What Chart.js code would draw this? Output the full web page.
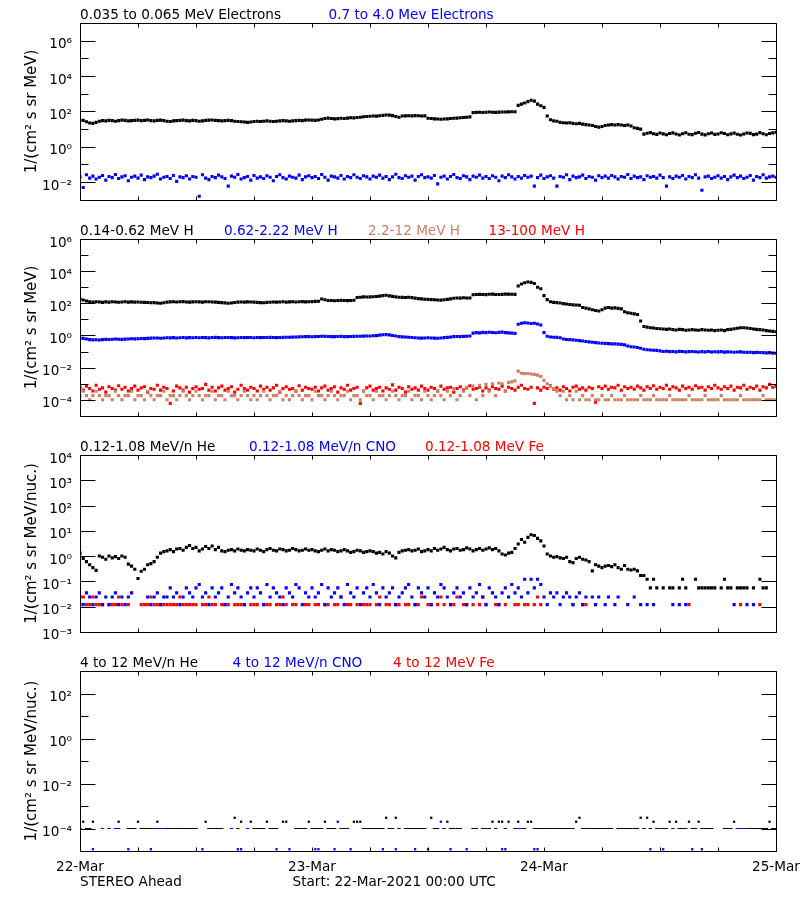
<!DOCTYPE html>
<html>
<head>
<meta charset="utf-8">
<script src="https://cdn.jsdelivr.net/npm/chart.js@4.4.1/dist/chart.umd.min.js"></script>
<style>
html,body{margin:0;padding:0;background:#fff;}
#wrap{position:relative;width:800px;height:900px;overflow:hidden;background:#fff;}
canvas{position:absolute;left:0;}
</style>
</head>
<body>
<div id="wrap">
<canvas id="c1" width="800" height="216" style="top:0px"></canvas>
<canvas id="c2" width="800" height="216" style="top:216px"></canvas>
<canvas id="c3" width="800" height="216" style="top:432px"></canvas>
<canvas id="c4" width="800" height="252" style="top:648px"></canvas>
</div>
<script>
// ---------- time axis (hours since 22-Mar-2021 00:00 UTC), samples every 20 minutes ----------
const HOURS_PER_STEP = 1/3;
const xTickHours = [0,6,12,18,24,30,36,42,48,54,60,66,72];
const dayTickHours = [0,24,48,72];
const dayLabels = ['22-Mar','23-Mar','24-Mar','25-Mar'];

// ---------- y tick values / labels ----------
const p1TickVals = [1e-2,1,1e2,1e4,1e6];
const p1TickLabels = ['10⁻²','10⁰','10²','10⁴','10⁶'];
const p1Minor = [1e-1,1e1,1e3,1e5];
const p2TickVals = [1e-4,1e-2,1,1e2,1e4,1e6];
const p2TickLabels = ['10⁻⁴','10⁻²','10⁰','10²','10⁴','10⁶'];
const p2Minor = [1e-3,1e-1,1e1,1e3,1e5];
const p3TickVals = [1e-3,1e-2,1e-1,1,1e1,1e2,1e3,1e4];
const p3TickLabels = ['10⁻³','10⁻²','10⁻¹','10⁰','10¹','10²','10³','10⁴'];
const p3Minor = [];
const p4TickVals = [1e-4,1e-2,1,1e2];
const p4TickLabels = ['10⁻⁴','10⁻²','10⁰','10²'];
const p4Minor = [1e-3,1e-1,1e1];

// ---------- Panel 1: electrons ----------
const e35to65 = [
 33,31,26,22,21,24,28,30,29,31,30,28,30,32,31,29,30,31,
 32,30,31,33,30,29,31,32,30,28,27,29,30,31,32,30,29,31,
 30,28,29,31,32,33,31,30,29,30,31,30,28,27,26,25,24,25,
 27,28,27,28,29,28,27,28,29,30,29,28,29,30,31,30,32,33,
 32,31,33,36,40,42,40,38,39,41,40,42,44,43,45,47,50,52,
 53,55,54,57,60,63,62,58,52,47,55,56,57,56,58,57,55,56,
 41,40,38,37,36,37,38,40,41,42,44,45,47,49,86,88,90,87,
 89,92,90,88,91,93,92,94,95,96,220,260,300,360,430,380,260,210,
 170,55,34,29,28,24,23,22,23,21,20,21,19,18,17,16,14,13,
 14,16,17,18,17,18,17,16,17,15,12,11,10,5.2,5.8,6.3,5.5,5.0,
 6.0,5.4,4.8,5.6,6.1,5.3,4.6,5.5,6.2,5.1,4.9,5.8,6.4,5.2,4.7,5.5,6.0,5.0,
 5.3,6.2,5.6,4.8,5.4,5.9,5.1,4.6,5.3,6.0,5.7,4.9,5.2,6.3,5.5,4.8,5.6,6.1,
 6.6];
const e07to40 = [
 .020,.005,.026,.017,.022,.015,.019,.024,.013,.021,.018,.027,.016,.020,.023,.012,.019,.022,
 .017,.025,.014,.020,.018,.022,.028,.015,.019,.021,.016,.024,.011,.020,.018,.023,.015,.021,
 .019,.0016,.026,.017,.014,.021,.018,.025,.020,.016,.006,.022,.019,.027,.015,.018,.021,.013,
 .024,.017,.020,.016,.023,.019,.012,.021,.026,.018,.015,.022,.019,.017,.025,.014,.020,.023,
 .018,.021,.016,.027,.019,.013,.022,.020,.017,.024,.015,.021,.018,.026,.019,.016,.023,.020,
 .015,.022,.019,.025,.017,.021,.014,.020,.028,.018,.016,.023,.019,.022,.013,.021,.026,.018,
 .020,.017,.024,.008,.019,.022,.015,.021,.027,.018,.016,.023,.020,.014,.022,.019,.025,.017,
 .021,.016,.023,.019,.012,.022,.018,.026,.020,.015,.021,.017,.024,.019,.022,.006,.018,.025,
 .016,.020,.023,.017,.006,.021,.019,.026,.014,.022,.018,.020,.025,.016,.021,.019,.013,.023,
 .018,.022,.017,.024,.020,.015,.021,.019,.027,.016,.022,.018,.020,.014,.023,.019,.021,.017,
 .025,.018,.006,.020,.016,.022,.019,.024,.015,.021,.018,.026,.017,.0035,.020,.022,.016,.019,
 .023,.017,.021,.014,.020,.025,.018,.022,.016,.019,.024,.013,.021,.018,.026,.017,.020,.022,
 .019];

// ---------- Panel 2: protons ----------
const h014to062 = [
 185,160,140,125,118,125,120,115,122,118,125,120,116,121,124,118,122,119,
 121,117,115,112,108,110,105,100,108,118,122,125,120,124,127,121,118,123,
 125,122,119,124,126,120,118,115,110,106,100,104,112,118,121,119,123,120,
 118,114,110,108,114,117,120,118,121,124,119,122,125,121,124,127,123,126,
 128,131,135,185,165,150,148,145,150,152,148,146,150,155,230,240,250,245,
 250,258,265,280,300,316,290,270,250,238,235,230,240,225,210,195,190,180,
 175,170,165,160,158,165,175,190,205,215,210,220,215,212,340,355,360,350,
 345,365,370,355,350,360,370,375,365,360,1200,1600,1900,2100,2000,1700,1000,800,
 300,170,125,115,110,105,95,90,85,80,78,75,55,50,45,40,36,33,
 40,50,55,50,52,48,45,30,26,24,22,20,8,3.6,3.3,3.0,2.9,2.7,
 2.6,2.5,2.4,2.5,2.3,2.2,2.4,2.3,2.1,2.2,2.3,2.2,2.1,2.3,2.2,2.1,2.2,2.0,
 2.1,2.2,2.0,2.3,2.4,2.6,2.8,3.0,3.0,2.9,2.7,2.5,2.4,2.3,2.2,2.0,1.9,1.8,
 1.7];
const h062to222 = [
 .68,.66,.60,.55,.53,.54,.52,.55,.57,.56,.58,.60,.58,.57,.59,.60,.62,.61,
 .63,.65,.64,.66,.68,.70,.69,.67,.70,.72,.71,.73,.70,.72,.74,.71,.73,.72,
 .74,.72,.75,.73,.71,.74,.76,.73,.72,.74,.75,.73,.71,.72,.74,.73,.75,.74,
 .72,.74,.73,.75,.74,.76,.75,.73,.74,.76,.78,.77,.79,.80,.82,.83,.85,.84,
 .83,.85,.86,.90,.88,.86,.85,.84,.86,.87,.85,.84,.86,.88,.90,.89,.91,.93,
 .92,.95,.98,1.05,1.10,1.12,1.08,1.00,.92,.85,.82,.80,.78,.75,.72,.70,.68,.70,
 .72,.70,.68,.67,.70,.73,.76,.80,.84,.86,.85,.88,.90,.92,1.4,1.5,1.45,1.55,
 1.5,1.58,1.52,1.48,1.55,1.6,1.5,1.45,1.4,1.35,5.0,5.8,6.2,5.9,5.5,5.8,5.2,4.5,
 1.5,.90,.80,.78,.76,.72,.60,.56,.55,.53,.50,.48,.45,.42,.40,.38,.36,.34,
 .33,.32,.31,.30,.30,.29,.28,.26,.22,.20,.19,.18,.16,.14,.13,.125,.12,.118,
 .11,.10,.105,.098,.10,.096,.102,.10,.095,.098,.101,.097,.094,.099,.096,.10,.093,.097,
 .095,.098,.092,.096,.094,.090,.093,.095,.091,.088,.090,.086,.089,.087,.085,.083,.086,.080,
 .078];
const h22to12 = [
 1.8e-4,3.4e-4,1.8e-4,1e-4,1.8e-4,3.4e-4,1.8e-4,1e-4,1.8e-4,1.8e-4,1e-4,3.4e-4,1.8e-4,1e-4,1.8e-4,1.8e-4,3.4e-4,1e-4,
 1.8e-4,1.8e-4,1e-4,3.4e-4,1.8e-4,1e-4,1.8e-4,1.8e-4,3.4e-4,1e-4,1.8e-4,1.8e-4,1e-4,1.8e-4,3.4e-4,1.8e-4,1e-4,1.8e-4,
 3.4e-4,1.8e-4,1e-4,1.8e-4,1.8e-4,3.4e-4,1e-4,1.8e-4,1.8e-4,1e-4,3.4e-4,1.8e-4,1.8e-4,1e-4,1.8e-4,3.4e-4,1.8e-4,1e-4,
 1.8e-4,1e-4,1.8e-4,3.4e-4,1.8e-4,1e-4,1.8e-4,1.8e-4,3.4e-4,1e-4,1.8e-4,1e-4,1.8e-4,3.4e-4,1.8e-4,1e-4,1.8e-4,1.8e-4,
 1e-4,3.4e-4,1.8e-4,1.8e-4,1e-4,1.8e-4,3.4e-4,1.8e-4,1e-4,1.8e-4,1.8e-4,3.4e-4,1e-4,1.8e-4,1.8e-4,1e-4,3.4e-4,1.8e-4,
 1.8e-4,1e-4,3.4e-4,1.8e-4,1.8e-4,1e-4,1.8e-4,3.4e-4,1.8e-4,1e-4,1.8e-4,1.8e-4,3.4e-4,1e-4,1.8e-4,1.8e-4,1e-4,3.4e-4,
 1.8e-4,1e-4,1.8e-4,3.4e-4,1.8e-4,1e-4,3.4e-4,1.8e-4,5e-4,1e-4,1.8e-4,3.4e-4,6e-4,1.8e-4,7e-4,1e-4,8e-4,1.8e-4,
 9e-4,3.4e-4,1e-3,1.8e-4,1.1e-3,1e-3,3.4e-4,1.2e-3,1.3e-3,1.5e-3,6e-3,4.5e-3,4.2e-3,4.3e-3,4e-3,3.8e-3,3.4e-3,2.8e-3,
 1.6e-3,1e-3,7e-4,5e-4,3.4e-4,1.8e-4,3.4e-4,1e-4,1.8e-4,1e-4,3.4e-4,1e-4,1.8e-4,1e-4,1e-4,1.8e-4,1e-4,1e-4,
 1.8e-4,1e-4,1e-4,1.8e-4,1e-4,1e-4,1e-4,1.8e-4,1e-4,1e-4,1e-4,1e-4,1.8e-4,1e-4,1e-4,1e-4,1.8e-4,1e-4,
 1e-4,1e-4,1e-4,1.8e-4,1e-4,1e-4,1e-4,1e-4,1e-4,1.8e-4,1e-4,1e-4,1e-4,1e-4,1.8e-4,1e-4,1e-4,1e-4,
 1e-4,1.8e-4,1e-4,1e-4,1e-4,1e-4,1e-4,1.8e-4,1e-4,1e-4,1e-4,1e-4,1e-4,1e-4,1.8e-4,1e-4,1e-4,1e-4,
 1e-4];
const h13to100 = [
 6e-4,4e-4,7e-4,5e-4,3.5e-4,8e-4,4.5e-4,5.5e-4,3e-4,6.5e-4,5e-4,4e-4,7.5e-4,4.5e-4,6e-4,3.5e-4,5e-4,7e-4,
 4e-4,5.5e-4,6.5e-4,3e-4,5e-4,4.5e-4,8e-4,4e-4,6e-4,5e-4,6e-5,3.5e-4,7e-4,5.5e-4,4e-4,6e-4,3e-4,5e-4,
 6.5e-4,4.5e-4,5e-4,9e-4,4e-4,6e-4,3.5e-4,5.5e-4,7e-4,4e-4,5e-4,6.5e-4,3e-4,4.5e-4,8e-4,5e-4,4e-4,6e-4,
 5e-4,3.5e-4,7e-4,4.5e-4,6e-4,4e-4,5.5e-4,8e-4,3e-4,5e-4,6.5e-4,4.5e-4,5e-4,3.5e-4,7.5e-4,4e-4,6e-4,5e-4,
 4.5e-4,6e-4,3.5e-4,5.5e-4,7e-4,4e-4,5e-4,6.5e-4,3e-4,5.5e-4,4.5e-4,8e-4,4e-4,5e-4,6e-4,6e-5,3.5e-4,5.5e-4,
 7e-4,4e-4,5e-4,6e-4,3.5e-4,5.5e-4,4.5e-4,8.5e-4,4e-4,6e-4,5e-4,3e-4,6.5e-4,4.5e-4,5.5e-4,4e-4,7e-4,5e-4,
 4e-4,6e-4,5e-4,3.5e-4,7e-4,4.5e-4,5.5e-4,6e-4,3e-4,5e-4,6.5e-4,4e-4,5.5e-4,7.5e-4,4.5e-4,5e-4,6e-4,3.5e-4,
 5.5e-4,4e-4,6.5e-4,5e-4,4.5e-4,7e-4,3.5e-4,6e-4,5e-4,4e-4,6e-4,8e-4,5e-4,4.5e-4,6e-4,6e-5,5.5e-4,4e-4,
 6e-4,5e-4,7.5e-4,4.5e-4,5.5e-4,4e-4,6.5e-4,5e-4,3.5e-4,6e-4,7e-4,4.5e-4,5.5e-4,4e-4,6e-4,5e-4,7e-5,6.5e-4,
 5e-4,7e-4,4.5e-4,6e-4,5.5e-4,8e-4,4e-4,6.5e-4,5e-4,6e-4,4.5e-4,7e-4,5.5e-4,4e-4,6.5e-4,5e-4,7.5e-4,4.5e-4,
 6e-4,5e-4,8e-4,4.5e-4,6.5e-4,5.5e-4,4e-4,7e-4,5e-4,6e-4,4.5e-4,7.5e-4,5.5e-4,6e-4,4e-4,6.5e-4,5e-4,8e-4,
 5.5e-4,4.5e-4,6.5e-4,5e-4,7e-4,4e-4,6e-4,5.5e-4,8e-4,4.5e-4,6e-4,5e-4,7e-4,4e-4,6.5e-4,5.5e-4,9e-4,6e-4,
 7e-4];

// ---------- Panel 3: 0.12-1.08 MeV/n heavy ions ----------
const he012to108 = [
 1.3,.8,.6,.45,.35,.27,1.0,.9,.75,1.0,.85,.95,.8,1.0,.9,.48,.4,.3,
 .13,.25,.3,.45,.5,.6,.9,1.3,1.5,1.6,1.8,1.5,1.9,2.0,1.7,2.2,2.6,2.0,
 2.2,1.6,1.9,2.4,2.0,2.5,1.8,2.2,1.6,1.5,1.7,1.8,1.6,1.9,1.7,1.6,1.8,1.7,
 1.6,1.9,1.7,1.5,1.8,2.0,1.7,1.6,1.9,1.8,1.6,1.7,2.0,1.8,1.6,1.7,1.9,1.7,
 1.8,1.6,1.5,1.7,1.9,1.6,1.8,1.7,1.5,1.6,1.8,1.6,1.4,1.5,1.7,1.6,1.4,1.5,
 1.6,1.5,1.3,1.4,1.2,1.5,1.3,1.0,.85,1.4,1.6,1.7,1.8,1.6,1.7,1.9,1.5,1.6,
 1.8,1.6,2.0,1.7,1.9,2.2,1.8,1.6,1.9,2.0,1.7,1.8,2.1,1.9,1.6,1.8,2.0,1.7,
 1.9,2.1,1.8,2.0,1.6,1.2,1.1,1.3,1.4,2.0,3.0,4.5,3.5,5.5,7.0,6.5,5.0,4.0,
 2.5,1.2,1.0,.9,.95,.85,.8,.9,.6,.55,.8,.9,.75,.7,.6,.26,.45,.4,
 .35,.4,.42,.38,.45,.35,.3,.42,.3,.28,.3,.26,.17,.17,.12,.055,.12,.055,
 null,.055,null,.055,.055,null,.055,.12,.055,null,null,.12,.055,.055,.055,.055,.055,.055,
 null,.055,.12,.055,.055,null,.055,.055,.055,.055,null,.055,null,.12,.055,.055,null,null,
 null];
const cno012to108 = [
 .024,.012,.035,.024,.012,.024,.035,.012,.024,.012,.024,.035,.012,.024,.012,.024,.035,null,
 null,null,null,.024,.012,.024,.035,.012,.024,.024,.055,.024,.035,.012,.024,.055,.035,.024,
 .055,.075,.024,.035,.012,.055,.024,.035,.055,.012,.024,.075,.035,.055,.024,.012,.035,.055,
 .024,.055,.035,.012,.075,.024,.055,.035,.024,.012,.055,.035,.024,.075,.055,.012,.035,.024,
 .055,.024,.035,.075,.012,.055,.024,.035,.055,.024,.012,.075,.035,.024,.055,.012,.035,.055,
 .024,.075,.035,.012,.055,.024,.035,.055,.012,.024,.035,.055,.075,.024,.012,.055,.035,.024,
 .055,.012,.035,.024,.075,.055,.024,.012,.035,.055,.024,.035,.012,.055,.024,.035,.075,.024,
 .012,.055,.035,.024,.012,.035,.055,.024,.075,.035,.055,.024,.12,.035,.12,.055,.12,.075,
 .024,.012,.035,.024,.035,.012,.024,.035,.024,.012,.024,.035,.012,.024,null,.024,.012,.024,
 null,.012,.024,null,.012,.024,null,null,.012,null,.024,null,.012,null,.012,null,.012,null,
 null,null,null,null,.012,null,.012,null,.012,null,null,null,null,null,null,null,null,null,
 null,null,null,null,null,.012,null,null,null,.012,null,.012,null,null,null,null,null,null,
 null];
const fe012to108 = [
 .012,.024,.012,.012,.024,.012,.012,.012,null,.012,.012,.012,.024,.012,null,.012,null,null,
 null,.012,.012,.012,.024,.012,.012,.012,.012,.012,.012,.012,.012,.024,.012,.012,.012,.012,
 .012,null,.012,.012,.024,.012,.012,null,.012,.012,.012,null,.012,.012,.012,.012,null,.012,
 .012,.012,null,.012,.012,.012,null,.012,.012,.024,.012,null,.012,.012,null,null,.012,.012,
 null,.012,.012,null,.012,.012,null,.012,.012,.024,null,.012,.012,null,.012,null,.012,.012,
 .012,null,.012,.024,null,.012,.012,null,.012,.012,null,.012,.012,null,.012,.012,.024,null,
 .012,.012,null,.012,.024,.012,null,.012,.012,.024,null,.012,.012,null,.012,null,.012,.024,
 .012,null,null,.012,.012,null,.012,null,null,.012,.012,null,.012,.012,null,.012,.024,.012,
 null,null,null,null,null,null,null,null,null,.012,null,null,.012,.012,null,null,.012,null,
 null,null,null,null,null,null,null,null,null,null,null,null,null,null,null,null,null,null,
 null,null,null,null,null,null,null,null,null,.012,null,null,null,null,null,null,null,null,
 null,null,null,null,null,null,null,.012,null,null,null,null,null,.012,null,null,null,null,
 null];

// ---------- Panel 4: 4-12 MeV/n heavy ions ----------
const he4to12 = [
 1e-4,2e-4,1e-4,1e-4,2e-4,null,null,null,null,1e-4,null,null,2e-4,null,null,1e-4,1e-4,1e-4,
 2e-4,1e-4,1e-4,1e-4,1e-4,1e-4,2e-4,null,null,1e-4,1e-4,1e-4,1e-4,1e-4,1e-4,1e-4,1e-4,1e-4,
 1e-4,null,null,2e-4,1e-4,1e-4,1e-4,1e-4,1e-4,null,null,null,3e-4,1e-4,2e-4,null,null,2e-4,
 1e-4,1e-4,1e-4,1e-4,2e-4,1e-4,1e-4,1e-4,null,2e-4,2e-4,null,null,1e-4,1e-4,1e-4,1e-4,2e-4,
 1e-4,1e-4,1e-4,1e-4,2e-4,1e-4,1e-4,1e-4,null,1e-4,1e-4,null,null,2e-4,2e-4,2e-4,1e-4,1e-4,
 1e-4,1e-4,1e-4,1e-4,1e-4,3e-4,1e-4,1e-4,3e-4,1e-4,null,1e-4,1e-4,1e-4,1e-4,1e-4,1e-4,1e-4,
 null,3e-4,1e-4,1e-4,null,1e-4,2e-4,1e-4,1e-4,1e-4,1e-4,null,null,null,1e-4,1e-4,null,1e-4,
 1e-4,1e-4,2e-4,1e-4,2e-4,2e-4,1e-4,2e-4,null,1e-4,2e-4,null,1e-4,2e-4,2e-4,1e-4,1e-4,1e-4,
 1e-4,1e-4,1e-4,1e-4,1e-4,1e-4,1e-4,1e-4,1e-4,1e-4,2e-4,3e-4,1e-4,1e-4,1e-4,1e-4,1e-4,1e-4,
 1e-4,1e-4,1e-4,1e-4,null,1e-4,1e-4,1e-4,1e-4,1e-4,1e-4,1e-4,3e-4,1e-4,3e-4,1e-4,2e-4,1e-4,
 null,1e-4,1e-4,2e-4,null,2e-4,1e-4,1e-4,1e-4,2e-4,1e-4,1e-4,2e-4,1e-4,1e-4,1e-4,1e-4,null,
 null,null,1e-4,1e-4,1e-4,2e-4,null,null,null,1e-4,1e-4,1e-4,1e-4,1e-4,1e-4,1e-4,2e-4,1e-4,
 1e-4];
const cno4to12 = [
 null,null,null,null,1.2e-5,null,null,1e-4,null,null,null,1e-4,1e-4,null,null,1.2e-5,null,null,
 null,null,null,null,1.2e-5,null,1e-4,1e-4,1e-4,null,null,null,null,null,null,null,null,null,
 null,null,1.2e-5,null,null,null,null,null,null,null,null,1e-4,null,1.2e-5,1.2e-5,null,1e-4,null,
 null,null,null,null,null,null,null,1.2e-5,null,null,null,1.2e-5,null,null,null,null,null,null,
 null,1.2e-5,1.2e-5,null,null,null,null,1.2e-5,2e-4,null,null,1e-4,1.2e-5,null,null,null,null,null,
 1e-4,null,1e-4,null,1.2e-5,null,null,null,1.2e-5,null,null,null,null,1e-4,1.2e-5,null,null,null,
 1.2e-5,null,null,null,2e-4,null,null,1.2e-5,null,null,null,null,1.2e-5,null,null,null,null,null,
 null,null,null,null,null,1.2e-5,1.2e-5,null,null,null,1e-4,1e-4,null,null,null,1.2e-5,1.2e-5,null,
 null,null,null,null,null,null,null,null,null,null,null,null,null,null,null,null,null,null,
 null,null,null,null,null,null,null,null,null,null,null,null,null,null,null,1.2e-5,null,null,
 1e-4,1.2e-5,null,null,1e-4,null,null,null,null,null,1.2e-5,null,null,1.2e-5,null,null,null,null,
 null,null,null,null,null,null,1e-4,1e-4,1e-4,null,null,null,null,null,null,1e-4,null,null,
 null];
const fe4to12 = [];

// ---------- styling ----------
const FONT = "'DejaVu Sans', 'Liberation Sans', sans-serif";
const BLACK = '#000000', BLUE = '#0000ff', RED = '#ff0000', TAN = 'rgb(204,128,102)';
Chart.defaults.font.family = FONT;
Chart.defaults.color = '#000';

function toPoints(values) {
  return values.map((v, i) => ({x: i * HOURS_PER_STEP, y: v})).filter(p => p.y !== null);
}

const isRow = c => c.raw && c.raw.y === 1e-4;

const framePlugin = {
  id: 'idlFrame',
  afterDatasetsDraw(chart, args, o) {
    const {ctx, chartArea: a, scales} = chart;
    const xs = scales.x, ys = scales.y;
    const L = Math.round(a.left) + 0.5, R = Math.round(a.right) + 0.5;
    const T = Math.round(a.top) + 0.5, B = Math.round(a.bottom) + 0.5;
    ctx.save();
    ctx.strokeStyle = '#000';
    ctx.lineWidth = 1;
    ctx.beginPath();
    ctx.rect(L, T, R - L, B - T);
    o.major.forEach(v => {
      const y = Math.round(ys.getPixelForValue(v)) + 0.5;
      ctx.moveTo(L, y); ctx.lineTo(L + 15, y);
      ctx.moveTo(R, y); ctx.lineTo(R - 15, y);
    });
    o.minor.forEach(v => {
      const y = Math.round(ys.getPixelForValue(v)) + 0.5;
      ctx.moveTo(L, y); ctx.lineTo(L + 8, y);
      ctx.moveTo(R, y); ctx.lineTo(R - 8, y);
    });
    xTickHours.forEach(h => {
      const x = Math.round(xs.getPixelForValue(h)) + 0.5;
      ctx.moveTo(x, T); ctx.lineTo(x, T + 4);
      ctx.moveTo(x, B); ctx.lineTo(x, B - 4);
    });
    ctx.stroke();
    ctx.font = '13.6px ' + FONT;
    ctx.textAlign = 'left';
    ctx.textBaseline = 'alphabetic';
    chart.data.datasets.forEach((ds, i) => {
      ctx.fillStyle = ds.backgroundColor;
      ctx.fillText(ds.label, o.titleX[i], a.top - 4.5);
    });
    (o.footer || []).forEach(f => {
      ctx.fillStyle = '#000';
      ctx.fillText(f.text, f.x, a.bottom + f.dy);
    });
    ctx.restore();
  }
};

function makePanel(p) {
  const datasets = p.series.map(s => ({
    label: s.label,
    data: toPoints(s.data),
    backgroundColor: s.color,
    borderColor: s.color,
    showLine: false,
    pointStyle: p.dashRow ? (c => isRow(c) ? 'line' : 'rect') : 'rect',
    pointRadius: p.dashRow ? (c => isRow(c) ? 1.7 : 1.6) : 2.2,
    pointBorderWidth: p.dashRow ? (c => isRow(c) ? 1 : 0) : 0,
    pointHoverRadius: 0
  }));
  new Chart(document.getElementById(p.id), {
    type: 'scatter',
    data: {datasets},
    plugins: [framePlugin],
    options: {
      responsive: false,
      animation: false,
      devicePixelRatio: 1,
      events: [],
      layout: {padding: {left: 0, right: 24, top: 23, bottom: p.showDays ? 0 : 13}},
      plugins: {
        legend: {display: false},
        tooltip: {enabled: false},
        idlFrame: {major: p.tickVals, minor: p.minor, titleX: p.titleX, footer: p.footer}
      },
      scales: {
        x: {
          type: 'linear', min: 0, max: 72,
          display: p.showDays,
          afterBuildTicks: s => { s.ticks = dayTickHours.map(v => ({value: v})); },
          afterFit: s => { s.height = p.showDays ? 49 : 0; s.paddingLeft = 0; s.paddingRight = 0; },
          grid: {display: false, drawTicks: false},
          border: {display: false},
          ticks: {callback: (v, i) => dayLabels[i], maxRotation: 0, autoSkip: false, padding: 8,
                  font: {size: 13.6}, color: '#000'}
        },
        y: {
          type: 'logarithmic', min: p.min, max: p.max,
          afterBuildTicks: s => { s.ticks = p.tickVals.map(v => ({value: v})); },
          afterFit: s => { s.width = 80; },
          grid: {display: false, drawTicks: false},
          border: {display: false},
          ticks: {callback: (v, i) => p.tickLabels[i], autoSkip: false, padding: 8, labelOffset: 4,
                  font: {size: 13.6}, color: '#000'},
          title: {display: true, text: p.unit, font: {size: 15}, color: '#000', padding: {top: 23, bottom: 0}}
        }
      }
    }
  });
}

makePanel({
  id: 'c1', min: 1e-3, max: 1e7, tickVals: p1TickVals, tickLabels: p1TickLabels, minor: p1Minor,
  unit: '1/(cm² s sr MeV)', titleX: [80, 328.5], showDays: false,
  series: [
    {label: '0.035 to 0.065 MeV Electrons', color: BLACK, data: e35to65},
    {label: '0.7 to 4.0 Mev Electrons', color: BLUE, data: e07to40}
  ]
});
makePanel({
  id: 'c2', min: 1e-5, max: 1e6, tickVals: p2TickVals, tickLabels: p2TickLabels, minor: p2Minor,
  unit: '1/(cm² s sr MeV)', titleX: [80, 224, 368, 488.5], showDays: false,
  series: [
    {label: '0.14-0.62 MeV H', color: BLACK, data: h014to062},
    {label: '0.62-2.22 MeV H', color: BLUE, data: h062to222},
    {label: '2.2-12 MeV H', color: TAN, data: h22to12},
    {label: '13-100 MeV H', color: RED, data: h13to100}
  ]
});
makePanel({
  id: 'c3', min: 1e-3, max: 1e4, tickVals: p3TickVals, tickLabels: p3TickLabels, minor: p3Minor,
  unit: '1/(cm² s sr MeV/nuc.)', titleX: [80, 249, 425], showDays: false,
  series: [
    {label: '0.12-1.08 MeV/n He', color: BLACK, data: he012to108},
    {label: '0.12-1.08 MeV/n CNO', color: BLUE, data: cno012to108},
    {label: '0.12-1.08 MeV Fe', color: RED, data: fe012to108}
  ]
});
makePanel({
  id: 'c4', min: 1e-5, max: 1e3, tickVals: p4TickVals, tickLabels: p4TickLabels, minor: p4Minor,
  unit: '1/(cm² s sr MeV/nuc.)', titleX: [80, 232.5, 393], showDays: true, dashRow: true,
  footer: [{text: 'STEREO Ahead', x: 80, dy: 34.7}, {text: 'Start: 22-Mar-2021 00:00 UTC', x: 292.5, dy: 34.7}],
  series: [
    {label: '4 to 12 MeV/n He', color: BLACK, data: he4to12},
    {label: '4 to 12 MeV/n CNO', color: BLUE, data: cno4to12},
    {label: '4 to 12 MeV Fe', color: RED, data: fe4to12}
  ]
});
</script>
</body>
</html>
